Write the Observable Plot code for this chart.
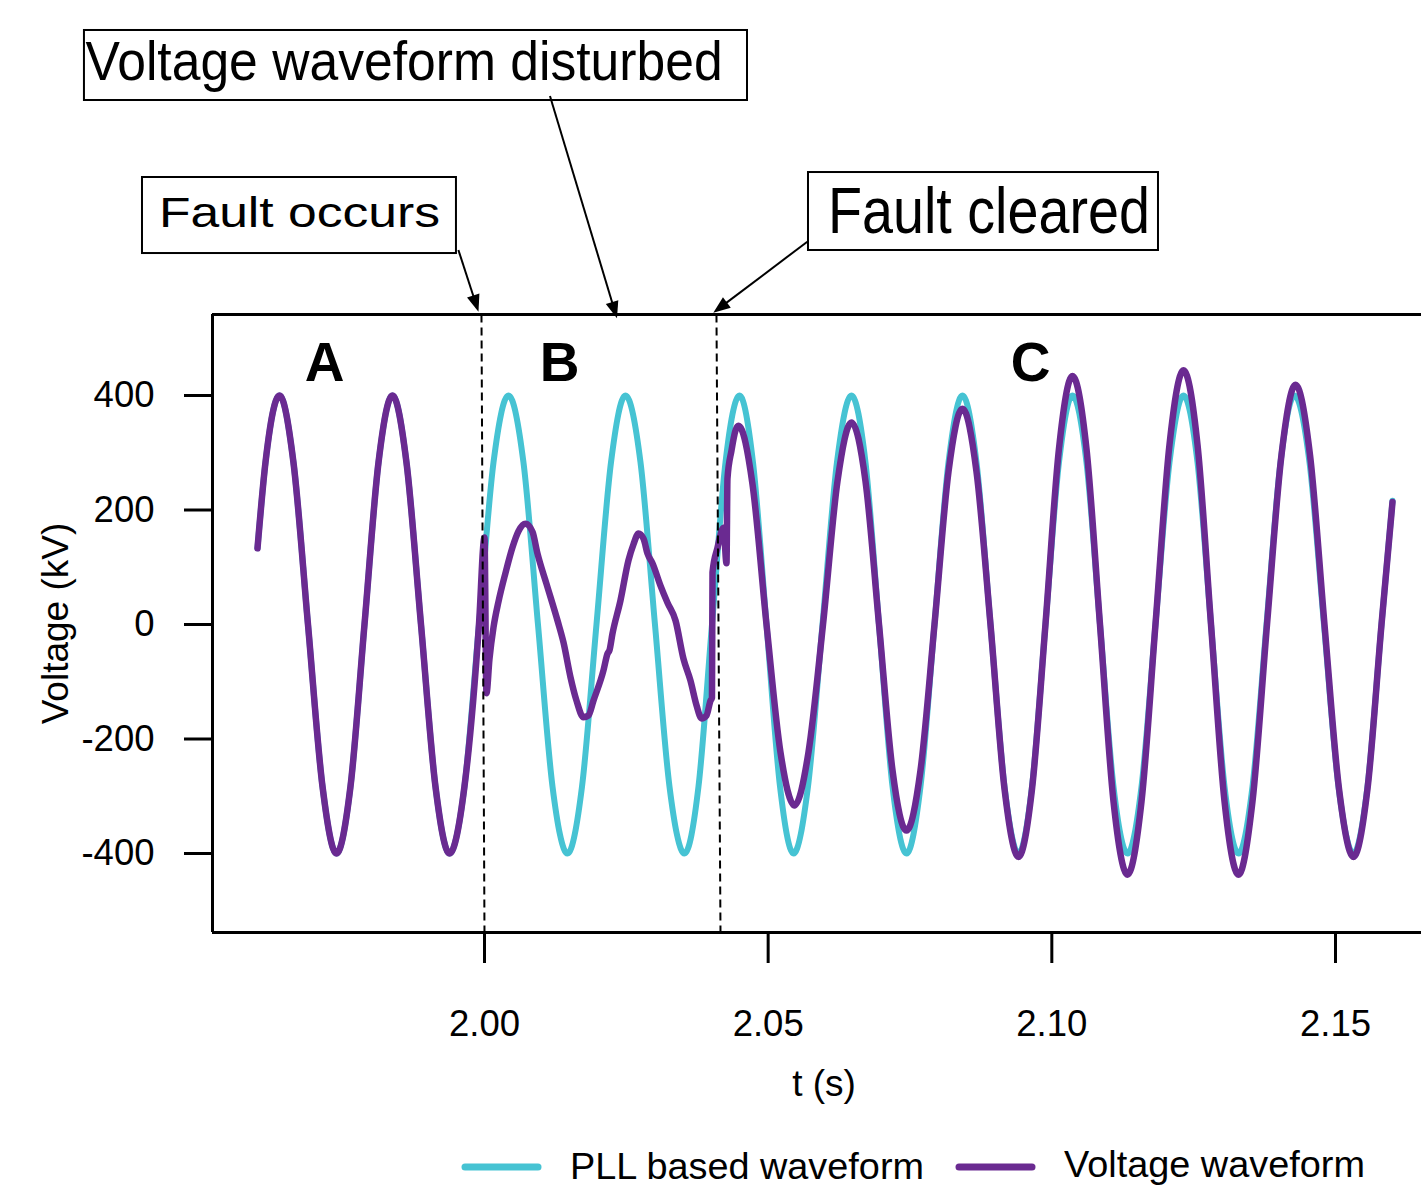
<!DOCTYPE html>
<html>
<head>
<meta charset="utf-8">
<script src="https://cdn.jsdelivr.net/npm/d3@7"></script>
<script src="https://cdn.jsdelivr.net/npm/@observablehq/plot@0.6"></script>
<style>
  html, body { margin: 0; padding: 0; background: #ffffff; }
  #chart { width: 1421px; }
  svg { display: block; }
</style>
</head>
<body>
<div id="chart"></div>
<script>
// ---------------- DATA ----------------
// PLL based waveform: time (s) and voltage (kV)
const pllT = [1.95999, 1.96140, 1.96387,
  1.96633, 1.96889, 1.97145, 1.97391,
  1.97638, 1.97885, 1.98132, 1.98378,
  1.98625, 1.98881, 1.99136, 1.99383,
  1.99647, 1.99903, 2.00159, 2.00423,
  2.00687, 2.00943, 2.01199, 2.01463,
  2.01719, 2.01974, 2.02230, 2.02485,
  2.02750, 2.03005, 2.03261, 2.03525,
  2.03772, 2.04010, 2.04248, 2.04495,
  2.04733, 2.04971, 2.05209, 2.05447,
  2.05702, 2.05958, 2.06213, 2.06469,
  2.06716, 2.06954, 2.07192, 2.07438,
  2.07685, 2.07932, 2.08179, 2.08425,
  2.08672, 2.08919, 2.09166, 2.09413,
  2.09651, 2.09888, 2.10126, 2.10364,
  2.10611, 2.10849, 2.11087, 2.11334,
  2.11581, 2.11827, 2.12074, 2.12321,
  2.12568, 2.12806, 2.13044, 2.13290,
  2.13537, 2.13784, 2.14031, 2.14277,
  2.14542, 2.14797, 2.15053, 2.15317,
  2.15564, 2.15811, 2.16005];
const pllV = [133, 283, 400,
  283, 0, -283, -400,
  -283, 0, 283, 400,
  283, 0, -283, -400,
  -283, 0, 283, 400,
  283, 0, -283, -400,
  -283, 0, 283, 400,
  283, 0, -283, -400,
  -283, 0, 283, 400,
  283, 0, -283, -400,
  -283, 0, 283, 400,
  283, 0, -283, -400,
  -283, 0, 283, 400,
  283, 0, -283, -400,
  -283, 0, 283, 400,
  283, 0, -283, -400,
  -283, 0, 283, 400,
  283, 0, -283, -400,
  -283, 0, 283, 400,
  283, 0, -283, -400,
  -283, 0, 216];

// Voltage waveform: time (s) and voltage (kV)
const voltT = [1.95999, 1.96140, 1.96387,
  1.96633, 1.96889, 1.97145, 1.97391,
  1.97638, 1.97885, 1.98132, 1.98378,
  1.98625, 1.98881, 1.99136, 1.99383,
  1.99647, 1.99903,
  2.00000, 2.00035, 2.00088, 2.00159, 2.00247, 2.00370, 2.00494, 2.00599, 2.00723,
  2.00846, 2.00934, 2.01093, 2.01287, 2.01392, 2.01516, 2.01622, 2.01745,
  2.01833, 2.01921, 2.02098, 2.02168, 2.02203, 2.02256, 2.02397, 2.02538, 2.02626, 2.02715,
  2.02803, 2.02873, 2.02961, 2.03102, 2.03226, 2.03367, 2.03508, 2.03631, 2.03737, 2.03825,
  2.03913, 2.03984, 2.04010, 2.04019, 2.04107, 2.04213, 2.04266, 2.04283, 2.04354, 2.04424, 2.04477,
  2.04724, 2.04971, 2.05217, 2.05464,
  2.05711, 2.05967, 2.06222, 2.06469,
  2.06716, 2.06954, 2.07192, 2.07438,
  2.07685, 2.07932, 2.08179, 2.08425,
  2.08672, 2.08919, 2.09166, 2.09413,
  2.09651, 2.09888, 2.10126, 2.10364,
  2.10611, 2.10849, 2.11087, 2.11334,
  2.11581, 2.11827, 2.12074, 2.12321,
  2.12568, 2.12806, 2.13044, 2.13290,
  2.13537, 2.13793, 2.14048, 2.14295,
  2.14551, 2.14806, 2.15062, 2.15317,
  2.15564, 2.15811, 2.16005];
const voltV = [133, 283, 400,
  283, 0, -283, -400,
  -283, 0, 283, 400,
  283, 0, -283, -400,
  -283, 0,
  152, -120, -60, -5, 40, 90, 135, 163, 176,
  162, 124, 71, 7, -31, -92, -133, -162,
  -159, -133, -80, -51, -45, -16, 42, 112, 140, 159,
  150, 124, 107, 68, 38, 7, -60, -98, -141, -164,
  -159, -133, -128, 91, 134, 169, 107, 255, 304, 339, 347,
  245, 0, -223, -316,
  -223, 0, 250, 353,
  250, 0, -255, -360,
  -255, 0, 267, 377,
  267, 0, -287, -406,
  -287, 0, 307, 434,
  307, 0, -309, -437,
  -309, 0, 314, 444,
  314, 0, -309, -437,
  -309, 0, 296, 419,
  296, 0, -287, -406,
  -287, 0, 214];

const seriesNames = ["PLL based waveform", "Voltage waveform"];
const seriesColors = ["#46C3D3", "#6A2A91"];

// axis ticks
const xTicks = [2.00, 2.05, 2.10, 2.15];
const yTicks = [-400, -200, 0, 200, 400];

// fault instants (dashed lines: time at top and at bottom of the frame)
const faultTopT = [1.99947, 2.04089];
const faultBottomT = [2.00000, 2.04160];

// region labels
const regionLabels = ["A", "B", "C"];
const regionT = [1.97180, 2.01322, 2.09624];
const regionV = [456, 456, 456];

// annotations (in data units)
const annoLabels = ["Voltage waveform disturbed", "Fault occurs", "Fault cleared"];
const annoBoxLeftT = [1.92949, 1.93972, 2.05711];
const annoBoxRightT = [2.04636, 1.99506, 2.11880];
const annoBoxTopV = [1037.6, 780.8, 789.5];
const annoBoxBottomV = [915.3, 648.0, 653.3];
const annoTextT = [1.92978, 1.94271, 2.06063];
const annoTextV = [950.2, 693.4, 683.0];
const arrowFromT = [2.01163, 1.99549, 2.05699];
const arrowFromV = [922.3, 653.3, 667.8];
const arrowToT = [2.02344, 1.99903, 2.04042];
const arrowToV = [534.0, 545.5, 543.8];

// ---------------- CHART ----------------
const FONT = "'Liberation Sans', Arial, Helvetica, sans-serif";
const xDomain = [1.95206, 2.16516];
const yDomain = [-538, 541.5];
const W = 1421, H = 1130;

const pll = pllT.map((t, i) => ({t, v: pllV[i]}));
const volt = voltT.map((t, i) => ({t, v: voltV[i]}));
const faults = faultTopT.map((t, i) => ({t1: t, t2: faultBottomT[i], top: yDomain[1], bottom: yDomain[0]}));
const regions = regionLabels.map((label, i) => ({label, t: regionT[i], v: regionV[i]}));

const plot = Plot.plot({
  width: W,
  height: H,
  marginLeft: 212,
  marginRight: 0,
  marginTop: 314,
  marginBottom: H - 932,
  x: {domain: xDomain},
  y: {domain: yDomain},
  style: {fontFamily: FONT, fontSize: "36.5px", background: "#ffffff", color: "#000000", overflow: "visible"},
  marks: [
    Plot.line(pll, {x: "t", y: "v", stroke: seriesColors[0], strokeWidth: 6, curve: "monotone-x"}),
    Plot.line(volt, {x: "t", y: "v", stroke: seriesColors[1], strokeWidth: 6.5, curve: "monotone-x"}),
    Plot.link(faults, {x1: "t1", x2: "t2", y1: "top", y2: "bottom", stroke: "#000", strokeWidth: 2, strokeDasharray: "8,5"}),
    Plot.ruleX([xDomain[0]], {stroke: "#000", strokeWidth: 3}),
    Plot.ruleY(yDomain, {stroke: "#000", strokeWidth: 3}),
    Plot.axisY({ticks: yTicks, tickSize: 28, tickPadding: 30, fontSize: 36.5, strokeWidth: 3, label: null, tickFormat: d => String(d)}),
    Plot.axisX({ticks: xTicks, tickSize: 31, tickPadding: 47, fontSize: 36.5, strokeWidth: 3, label: null, tickFormat: d3.format(".2f")}),
    Plot.text(["t (s)"], {text: d => d, frameAnchor: "bottom", textAnchor: "middle", lineAnchor: "middle", dx: 7, dy: 152, fontSize: 37, fill: "#000"}),
    Plot.text(["Voltage (kV)"], {text: d => d, frameAnchor: "left", textAnchor: "middle", lineAnchor: "middle", dx: -156, rotate: -90, fontSize: 37, fill: "#000"}),
    Plot.text(regions, {x: "t", y: "v", text: "label", fontSize: 55, fontWeight: "bold", fill: "#000"})
  ]
});

// annotations drawn through the plot's scales
const sx = plot.scale("x"), sy = plot.scale("y");
const annoFontSize = [55, 43, 64];
const annoTextLength = [637, 281, 322];
const svg = d3.select(plot);
const ag = svg.append("g").attr("class", "annotations").attr("text-anchor", "start");
annoLabels.forEach((label, i) => {
  const x1 = sx.apply(annoBoxLeftT[i]), x2 = sx.apply(annoBoxRightT[i]);
  const y1 = sy.apply(annoBoxTopV[i]), y2 = sy.apply(annoBoxBottomV[i]);
  ag.append("rect")
    .attr("x", x1).attr("y", y1)
    .attr("width", x2 - x1).attr("height", y2 - y1)
    .attr("fill", "#fff").attr("stroke", "#000").attr("stroke-width", 2);
  ag.append("text")
    .attr("x", sx.apply(annoTextT[i]))
    .attr("y", sy.apply(annoTextV[i]))
    .attr("text-anchor", "start")
    .attr("font-family", FONT)
    .attr("font-size", annoFontSize[i])
    .attr("textLength", annoTextLength[i])
    .attr("lengthAdjust", "spacingAndGlyphs")
    .attr("fill", "#000")
    .text(label);
  // arrow with filled head
  const ax0 = sx.apply(arrowFromT[i]), ay0 = sy.apply(arrowFromV[i]);
  const ax1 = sx.apply(arrowToT[i]), ay1 = sy.apply(arrowToV[i]);
  const dx = ax1 - ax0, dy = ay1 - ay0, len = Math.hypot(dx, dy);
  const ux = dx / len, uy = dy / len, nx = -uy, ny = ux;
  const L = 17, Wd = 6.5;
  const bx = ax1 - L * ux, by = ay1 - L * uy;
  ag.append("line")
    .attr("x1", ax0).attr("y1", ay0).attr("x2", bx + 2 * ux).attr("y2", by + 2 * uy)
    .attr("stroke", "#000").attr("stroke-width", 2);
  ag.append("path")
    .attr("d", `M${ax1},${ay1}L${bx + Wd * nx},${by + Wd * ny}L${bx - Wd * nx},${by - Wd * ny}Z`)
    .attr("fill", "#000");
});

document.getElementById("chart").appendChild(plot);

// legend below the plot
const legend = d3.create("svg")
  .attr("width", W).attr("height", 56)
  .style("font-family", FONT).style("background", "#fff");
const legSwatchX = [465, 959];
const legTextX = [570, 1064];
const legTextLen = [354, 301];
const legY = [37, 37];
const legBase = [49, 47];
seriesNames.forEach((name, i) => {
  legend.append("line")
    .attr("x1", legSwatchX[i]).attr("x2", legSwatchX[i] + 73)
    .attr("y1", legY[i]).attr("y2", legY[i])
    .attr("stroke", seriesColors[i]).attr("stroke-width", 7).attr("stroke-linecap", "round");
  legend.append("text")
    .attr("x", legTextX[i]).attr("y", legBase[i])
    .attr("text-anchor", "start")
    .attr("font-size", 36.5).attr("fill", "#000")
    .attr("textLength", legTextLen[i]).attr("lengthAdjust", "spacingAndGlyphs")
    .text(name);
});
document.getElementById("chart").appendChild(legend.node());
</script>
</body>
</html>
